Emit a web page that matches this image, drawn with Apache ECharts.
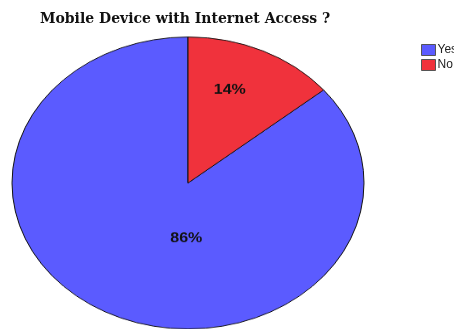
<!DOCTYPE html>
<html>
<head>
<meta charset="utf-8">
<script src="https://cdn.jsdelivr.net/npm/echarts@6/dist/echarts.min.js"></script>
<style>
  html, body { margin: 0; padding: 0; background: #fff; }
  .wrap { position: relative; width: 454px; height: 329px; overflow: hidden; }
  /* the pie is drawn round, then squashed to the flat ellipse of the original */
  #pie { position: absolute; left: 0; top: 0; width: 454px; height: 397px;
         transform: scaleY(0.8295); transform-origin: 0 0; }
  #top { position: absolute; left: 0; top: 0; width: 454px; height: 329px; }
</style>
</head>
<body>
<div class="wrap">
  <div id="pie"></div>
  <div id="top"></div>
</div>
<script>
// 数据
const titleText = 'Mobile Device with Internet Access ?';
const categories = ['Yes', 'No'];
const values = [86, 14];
const colors = ['#5b5bff', '#f0323c'];
// 标签微调（相对于默认 inside 位置）
const labelOffsets = [[37, -15], [3, -30]];

const pieData = categories.map((name, i) => ({
  name: name,
  value: values[i],
  itemStyle: { color: colors[i] },
  label: { offset: labelOffsets[i] }
}));

let pieChart = echarts.init(document.getElementById('pie'));
pieChart.setOption({
  animation: false,
  series: [
    {
      type: 'pie',
      center: [188, 220.6],
      radius: 176,
      startAngle: 90,
      clockwise: false,
      silent: true,
      itemStyle: { borderColor: '#111', borderWidth: 1 },
      label: {
        show: true,
        position: 'inside',
        formatter: '{c}%',
        color: '#111',
        fontWeight: 'bold',
        fontSize: 16,
        fontFamily: 'Liberation Sans, Arial, sans-serif'
      },
      labelLine: { show: false },
      data: pieData
    }
  ]
});

// title + legend on an unscaled layer
let topChart = echarts.init(document.getElementById('top'));
topChart.setOption({
  animation: false,
  title: {
    text: titleText,
    left: 35,
    top: 7,
    textStyle: {
      fontFamily: 'DejaVu Serif, serif',
      fontWeight: 'bold',
      fontSize: 14,
      color: '#111'
    }
  },
  legend: {
    orient: 'vertical',
    left: 416,
    top: 39,
    itemWidth: 14,
    itemHeight: 11,
    itemGap: 3,
    icon: 'rect',
    itemStyle: { borderColor: '#555', borderWidth: 1 },
    textStyle: {
      fontFamily: 'Liberation Sans, Arial, sans-serif',
      fontSize: 12,
      color: '#222',
      padding: [0, 0, 0, -3]
    },
    data: categories
  },
  series: [
    {
      type: 'pie',
      radius: 0,
      silent: true,
      label: { show: false },
      labelLine: { show: false },
      data: pieData.map(d => ({ name: d.name, value: d.value, itemStyle: d.itemStyle }))
    }
  ]
});
</script>
</body>
</html>
